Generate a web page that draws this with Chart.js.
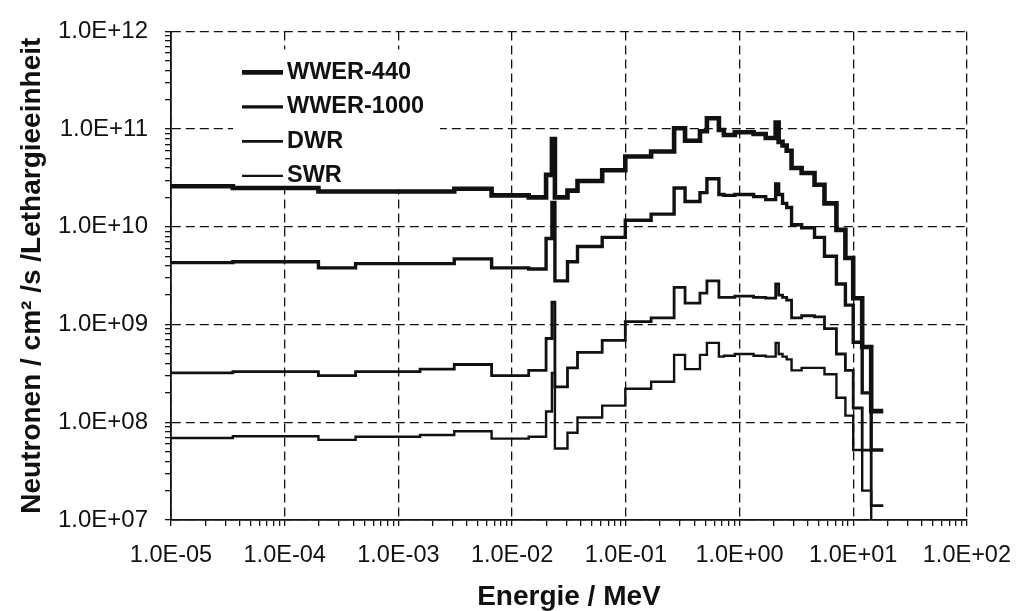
<!DOCTYPE html>
<html>
<head>
<meta charset="utf-8">
<script src="https://cdn.jsdelivr.net/npm/chart.js@4.4.1/dist/chart.umd.min.js"></script>
<style>
  html, body { margin: 0; padding: 0; background: #fff; }
  canvas { display: block; }
</style>
</head>
<body>
<canvas id="spektrum" width="1026" height="611"></canvas>
<script>
// Gruppengrenzen in MeV (untere Grenze jeder Gruppe, letzter Wert = obere Grenze der letzten Gruppe)
var energyEdges = [1.0e-5, 3.5e-5, 1.98e-4, 4.2e-4, 1.55e-3, 3.1e-3, 6.6e-3, 1.40e-2, 1.99e-2, 2.24e-2,
  2.38e-2, 3.07e-2, 3.76e-2, 6.2e-2, 9.9e-2, 0.167, 0.266, 0.332, 0.449, 0.517,
  0.659, 0.729, 0.910, 1.33, 1.70, 2.08, 2.21, 2.39, 2.60, 2.87,
  3.52, 4.57, 5.59, 7.12, 8.54, 10.0, 12.0, 14.4, 18.4];

// Fluss je Gruppe, Neutronen / cm2 / s / Lethargieeinheit
var wwer440 = [2.6e10, 2.5e10, 2.3e10, 2.3e10, 2.3e10, 2.45e10, 2.1e10, 2.0e10, 3.4e10, 7.9e10,
  2.0e10, 2.35e10, 2.95e10, 3.8e10, 5.25e10, 5.9e10, 1.02e11, 7.6e10, 9.5e10, 1.29e11,
  9.8e10, 8.7e10, 9.3e10, 8.9e10, 8.1e10, 1.17e11, 7.4e10, 6.8e10, 6.0e10, 4.0e10,
  3.55e10, 2.7e10, 1.74e10, 9.3e9, 4.8e9, 1.86e9, 5.9e8, 1.3e8];
var wwer1000 = [4.3e9, 4.4e9, 3.8e9, 4.2e9, 4.2e9, 4.7e9, 3.8e9, 3.7e9, 7.6e9, 1.78e10,
  2.8e9, 4.4e9, 6.3e9, 7.8e9, 1.17e10, 1.35e10, 2.5e10, 1.82e10, 2.24e10, 3.1e10,
  2.14e10, 2.1e10, 2.14e10, 2.04e10, 1.9e10, 2.75e10, 2.14e10, 1.74e10, 1.58e10, 1.05e10,
  9.8e9, 7.8e9, 5.0e9, 2.6e9, 1.58e9, 6.6e8, 2.0e8, 5.2e7];
var dwr = [3.2e8, 3.3e8, 3.0e8, 3.3e8, 3.5e8, 3.9e8, 3.0e8, 3.4e8, 7.2e8, 1.7e9,
  2.3e8, 3.6e8, 5.2e8, 6.9e8, 1.07e9, 1.17e9, 2.4e9, 1.66e9, 2.1e9, 2.8e9,
  1.9e9, 1.9e9, 1.95e9, 1.9e9, 1.86e9, 2.6e9, 2.0e9, 1.9e9, 1.78e9, 1.17e9,
  1.23e9, 1.2e9, 9.1e8, 5.0e8, 3.4e8, 1.4e8, 5.2e7, 1.4e7];
var swr = [6.9e7, 7.2e7, 6.6e7, 7.1e7, 7.4e7, 8.1e7, 6.8e7, 7.1e7, 1.29e8, 3.2e8,
  5.4e7, 7.8e7, 1.12e8, 1.48e8, 2.2e8, 2.6e8, 4.9e8, 3.5e8, 4.9e8, 6.5e8,
  4.7e8, 4.8e8, 5.0e8, 4.8e8, 4.7e8, 6.5e8, 5.0e8, 4.7e8, 4.4e8, 3.4e8,
  3.6e8, 3.6e8, 3.1e8, 1.78e8, 1.17e8, 5.2e7, 2.0e7, 4.0e6];

var seriesNames = ['WWER-440', 'WWER-1000', 'DWR', 'SWR'];
var seriesFlux = [wwer440, wwer1000, dwr, swr];
var lineWidths = [4.6, 3.4, 2.8, 2.4];

var FONT = '"Liberation Sans", Arial, Helvetica, sans-serif';
var INK = '#111';

function stepPoints(flux) {
  var pts = [];
  for (var i = 0; i < energyEdges.length; i++) {
    pts.push({ x: energyEdges[i], y: flux[Math.min(i, flux.length - 1)] });
  }
  return pts;
}

function isDecade(v) {
  var l = Math.log10(v);
  return Math.abs(l - Math.round(l)) < 1e-6;
}

function decadeLabel(v) {
  if (!isDecade(v)) return '';
  var e = Math.round(Math.log10(v));
  var a = Math.abs(e);
  return '1.0E' + (e < 0 ? '-' : '+') + (a < 10 ? '0' : '') + a;
}

// 1..9 x 10^n ticks for each decade
function logTicks(scale, lo, hi) {
  var t = [];
  for (var e = lo; e < hi; e++) {
    for (var m = 1; m < 10; m++) t.push({ value: m * Math.pow(10, e) });
  }
  t.push({ value: Math.pow(10, hi) });
  scale.ticks = t;
}

var datasets = [];
for (var s = 0; s < seriesNames.length; s++) {
  datasets.push({
    label: seriesNames[s],
    data: stepPoints(seriesFlux[s]),
    borderColor: INK,
    borderWidth: lineWidths[s],
    stepped: true,
    pointRadius: 0,
    fill: false
  });
}

// Legende im Diagramm, weiss hinterlegt
var legendBox = {
  id: 'legendBox',
  beforeDatasetsDraw: function (chart) {
    var ctx = chart.ctx;
    var a = chart.chartArea;
    ctx.save();
    ctx.fillStyle = '#fff';
    ctx.fillRect(a.left + 62, a.top + 18, 207, 140);
    ctx.font = 'bold 23.5px ' + FONT;
    ctx.textBaseline = 'middle';
    ctx.textAlign = 'left';
    chart.data.datasets.forEach(function (ds, i) {
      var y = a.top + 41 + i * 34.5;
      ctx.strokeStyle = ds.borderColor;
      ctx.lineWidth = ds.borderWidth;
      ctx.beginPath();
      ctx.moveTo(a.left + 71, y);
      ctx.lineTo(a.left + 112, y);
      ctx.stroke();
      ctx.fillStyle = INK;
      ctx.fillText(ds.label, a.left + 116, y);
    });
    ctx.restore();
  }
};

var ctx = document.getElementById('spektrum').getContext('2d');
var chart = new Chart(ctx, {
  type: 'line',
  data: { datasets: datasets },
  plugins: [legendBox],
  options: {
    responsive: false,
    animation: false,
    layout: { padding: { left: 0, top: 20, right: 56, bottom: 0 } },
    plugins: {
      legend: { display: false },
      tooltip: { enabled: false }
    },
    scales: {
      x: {
        type: 'logarithmic',
        min: 1e-5,
        max: 1e2,
        afterBuildTicks: function (scale) { logTicks(scale, -5, 2); },
        afterFit: function (scale) { scale.height = 91; },
        ticks: {
          autoSkip: false,
          maxRotation: 0,
          padding: 15,
          color: INK,
          font: { family: FONT, size: 23.5 },
          callback: function (v) { return decadeLabel(v); }
        },
        grid: {
          color: function (c) { return c.tick && isDecade(c.tick.value) ? INK : 'rgba(0,0,0,0)'; },
          tickColor: INK,
          tickLength: 6,
          lineWidth: 1.3
        },
        border: { display: true, color: INK, width: 1.8, dash: [9, 5] },
        title: {
          display: true,
          text: 'Energie / MeV',
          color: INK,
          font: { family: FONT, size: 28, weight: 'bold' },
          padding: { top: 0, bottom: -3 }
        }
      },
      y: {
        type: 'logarithmic',
        min: 1e7,
        max: 1e12,
        afterBuildTicks: function (scale) { logTicks(scale, 7, 12); },
        afterFit: function (scale) { scale.width = 171; },
        ticks: {
          autoSkip: false,
          padding: 17,
          color: INK,
          font: { family: FONT, size: 24 },
          callback: function (v) { return decadeLabel(v); }
        },
        grid: {
          color: function (c) { return c.tick && isDecade(c.tick.value) ? INK : 'rgba(0,0,0,0)'; },
          tickColor: INK,
          tickLength: 6,
          lineWidth: 1.3
        },
        border: { display: true, color: INK, width: 1.8, dash: [9, 5] },
        title: {
          display: true,
          text: 'Neutronen / cm\u00b2 /s /Lethargieeinheit',
          color: INK,
          font: { family: FONT, size: 28, weight: 'bold' },
          padding: { top: 15, bottom: 0 }
        }
      }
    }
  }
});
</script>
</body>
</html>
